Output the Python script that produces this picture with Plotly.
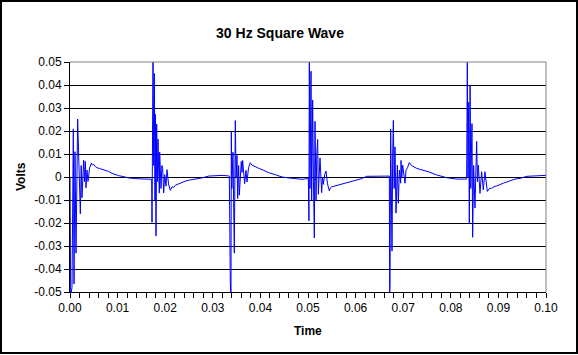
import plotly.graph_objects as go

# ---------------- data ----------------
time_s = [
    # burst 1
    0.00000, 0.00014, 0.00042, 0.00056, 0.00070, 0.00084, 0.00105, 0.00126, 0.00145, 0.00161,
    0.00182, 0.00217, 0.00235, 0.00252, 0.00287, 0.00305, 0.00322, 0.00336, 0.00357, 0.00378,
    0.00413, 0.00448, 0.00470, 0.00497, 0.00530, 0.00567, 0.00620, 0.00672, 0.00740, 0.00812,
    0.00880, 0.00952, 0.01020, 0.01092, 0.01160, 0.01232, 0.01372, 0.01513, 0.01650,
    # burst 2
    0.01700, 0.01716, 0.01723, 0.01730, 0.01744, 0.01758, 0.01772, 0.01786, 0.01793, 0.01807,
    0.01821, 0.01835, 0.01849, 0.01863, 0.01877, 0.01884, 0.01898, 0.01912, 0.01930, 0.01947,
    0.01968, 0.01990, 0.02017, 0.02038, 0.02070, 0.02108, 0.02143, 0.02180, 0.02213, 0.02283,
    0.02353, 0.02423, 0.02493, 0.02633, 0.02773, 0.02913, 0.03050, 0.03193, 0.03330,
    # burst 3
    0.03347, 0.03368, 0.03382, 0.03389, 0.03400, 0.03424, 0.03438, 0.03452, 0.03473, 0.03490,
    0.03508, 0.03522, 0.03543, 0.03557, 0.03599, 0.03613, 0.03627, 0.03669, 0.03697, 0.03718,
    0.03750, 0.03788, 0.03820, 0.03858, 0.03900, 0.03963, 0.04068, 0.04173, 0.04313, 0.04454,
    0.04594, 0.04874,
    # burst 4
    0.04950, 0.05007, 0.05020, 0.05028, 0.05042, 0.05063, 0.05077, 0.05098, 0.05115, 0.05133,
    0.05147, 0.05168, 0.05185, 0.05203, 0.05217, 0.05235, 0.05252, 0.05287, 0.05305, 0.05322,
    0.05350, 0.05378, 0.05410, 0.05448, 0.05470, 0.05497, 0.05550, 0.05602, 0.05707, 0.05847,
    0.05987, 0.06127, 0.06232, 0.06513, 0.06690,
    # burst 5
    0.06709, 0.06716, 0.06723, 0.06737, 0.06751, 0.06765, 0.06779, 0.06793, 0.06810, 0.06828,
    0.06849, 0.06865, 0.06877, 0.06898, 0.06920, 0.06947, 0.06954, 0.06970, 0.06989, 0.07038,
    0.07059, 0.07090, 0.07129, 0.07170, 0.07213, 0.07280, 0.07353, 0.07440, 0.07528, 0.07703,
    0.07913, 0.08123, 0.08333,
    # burst 6
    0.08347, 0.08361, 0.08375, 0.08389, 0.08405, 0.08420, 0.08445, 0.08459, 0.08480, 0.08508,
    0.08543, 0.08560, 0.08578, 0.08613, 0.08648, 0.08683, 0.08718, 0.08767, 0.08810, 0.08858,
    0.08910, 0.08963, 0.09103, 0.09244, 0.09349, 0.09454, 0.09600, 0.09800, 0.10000,
]

volts = [
    # burst 1
    0.0000, -0.0520, -0.0480, 0.0050, 0.0209, -0.0465, 0.0110, -0.0331, 0.0080, 0.0252,
    0.0096, -0.0160, 0.0050, -0.0090, 0.0073, -0.0020, 0.0068, -0.0047, 0.0030, -0.0019,
    0.0040, 0.0060, 0.0052, 0.0055, 0.0046, 0.0040, 0.0037, 0.0034, 0.0028, 0.0024,
    0.0016, 0.0009, 0.0006, 0.0003, -0.0001, -0.0004, -0.0007, -0.0009, -0.0012,
    # burst 2
    -0.0012, -0.0010, -0.0197, -0.0005, 0.0520, 0.0050, 0.0450, -0.0100, 0.0273, -0.0256,
    0.0230, -0.0020, 0.0165, 0.0030, -0.0070, 0.0108, 0.0010, -0.0050, 0.0050, 0.0036,
    -0.0069, 0.0010, -0.0040, 0.0032, -0.0030, -0.0058, -0.0043, -0.0045, -0.0036, -0.0030,
    -0.0022, -0.0018, -0.0014, -0.0010, -0.0004, 0.0004, 0.0006, 0.0007, 0.0005,
    # burst 3
    0.0004, -0.0460, -0.0520, 0.0197, -0.0050, 0.0108, -0.0137, -0.0331, 0.0245, 0.0000,
    0.0094, -0.0094, 0.0050, -0.0079, 0.0068, 0.0020, 0.0072, -0.0029, 0.0029, -0.0022,
    0.0040, 0.0062, 0.0052, 0.0048, 0.0043, 0.0038, 0.0029, 0.0019, 0.0010, 0.0000,
    -0.0004, -0.0010,
    # burst 4
    -0.0008, -0.0006, -0.0190, 0.0520, -0.0050, 0.0460, -0.0100, 0.0335, -0.0020, -0.0265,
    0.0242, -0.0104, 0.0100, 0.0163, -0.0075, 0.0040, 0.0083, -0.0068, 0.0000, -0.0032,
    0.0010, 0.0026, -0.0030, -0.0060, -0.0048, -0.0043, -0.0040, -0.0036, -0.0029, -0.0022,
    -0.0014, -0.0007, 0.0003, 0.0004, 0.0004,
    # burst 5
    0.0004, -0.0520, -0.0466, 0.0207, -0.0100, -0.0322, 0.0100, 0.0246, -0.0050, 0.0131,
    -0.0157, 0.0020, 0.0052, -0.0114, 0.0030, -0.0027, 0.0072, 0.0000, 0.0052, -0.0027,
    0.0030, 0.0040, 0.0063, 0.0050, 0.0045, 0.0038, 0.0033, 0.0028, 0.0023, 0.0009,
    -0.0003, -0.0009, -0.0009,
    # burst 6
    0.0520, 0.0000, 0.0325, -0.0204, 0.0400, -0.0050, 0.0232, -0.0262, 0.0050, -0.0135,
    0.0155, -0.0020, 0.0052, -0.0071, 0.0023, -0.0056, 0.0023, -0.0063, -0.0050, -0.0049,
    -0.0042, -0.0039, -0.0027, -0.0017, -0.0009, -0.0006, 0.0003, 0.0005, 0.0007,
]

x_tick_vals = [0.00, 0.01, 0.02, 0.03, 0.04, 0.05, 0.06, 0.07, 0.08, 0.09, 0.10]
x_tick_text = ["0.00", "0.01", "0.02", "0.03", "0.04", "0.05", "0.06", "0.07", "0.08", "0.09", "0.10"]
y_tick_vals = [-0.05, -0.04, -0.03, -0.02, -0.01, 0.0, 0.01, 0.02, 0.03, 0.04, 0.05]
y_tick_text = ["-0.05", "-0.04", "-0.03", "-0.02", "-0.01", "0", "0.01", "0.02", "0.03", "0.04", "0.05"]

chart_title = "30 Hz Square Wave"
x_title = "Time"
y_title = "Volts"

# ---------------- figure ----------------
W, H = 578, 355
L, R, T, B = 70, 32, 62, 63
pw, ph = W - L - R, H - T - B

FONT = "Liberation Sans, Arial, sans-serif"

fig = go.Figure()
fig.add_trace(go.Scatter(
    x=time_s, y=volts, mode="lines",
    line=dict(color="#0000FF", width=1),
    showlegend=False, hoverinfo="skip",
))

fig.update_layout(
    width=W, height=H,
    margin=dict(l=L, r=R, t=T, b=B, pad=0),
    paper_bgcolor="white", plot_bgcolor="white",
    font=dict(family=FONT, size=12, color="black"),
    title=dict(text="<b>" + chart_title + "</b>", x=280 / W, xanchor="center",
               xref="container", y=1 - 33 / H, yref="container", yanchor="middle",
               font=dict(family=FONT, size=14, color="black")),
)

fig.update_xaxes(
    range=[0, 0.1], tickmode="array", tickvals=x_tick_vals, ticktext=x_tick_text,
    showgrid=False, zeroline=False,
    showline=True, linecolor="black", linewidth=1,
    ticks="outside", ticklen=5, tickcolor="black", tickwidth=1,
    minor=dict(dtick=0.002, tick0=0, ticks="outside", ticklen=5, tickcolor="black", showgrid=False),
    tickfont=dict(family=FONT, size=12, color="black"),
)
fig.update_yaxes(
    range=[-0.05, 0.05], tickmode="array", tickvals=y_tick_vals, ticktext=y_tick_text,
    showgrid=True, gridcolor="black", gridwidth=1, zeroline=False,
    showline=True, linecolor="black", linewidth=1,
    ticks="outside", ticklen=5, tickcolor="black", tickwidth=1,
    tickfont=dict(family=FONT, size=12, color="black"),
)

# plot-area border (gray top & right) and chart outer frame
fig.add_shape(type="line", xref="paper", yref="paper", x0=0, x1=1, y0=1, y1=1,
              line=dict(color="#808080", width=1))
fig.add_shape(type="line", xref="paper", yref="paper", x0=1, x1=1, y0=0, y1=1,
              line=dict(color="#808080", width=1))
fig.add_shape(type="rect", xref="paper", yref="paper",
              x0=(1 - L) / pw, x1=(577 - L) / pw,
              y0=(H - B - 353) / ph, y1=(H - B - 1) / ph,
              line=dict(color="black", width=2), fillcolor="rgba(0,0,0,0)")

# axis titles
fig.add_annotation(text="<b>" + y_title + "</b>", textangle=-90, xref="paper", yref="paper",
                   x=(21 - L) / pw, y=(H - B - 177) / ph, showarrow=False,
                   xanchor="center", yanchor="middle", font=dict(family=FONT, size=12, color="black"))
fig.add_annotation(text="<b>" + x_title + "</b>", xref="paper", yref="paper",
                   x=(308 - L) / pw, y=(H - B - 331) / ph, showarrow=False,
                   xanchor="center", yanchor="middle", font=dict(family=FONT, size=12, color="black"))

fig.write_html("out.html", config={"displayModeBar": False},
               post_script="document.body.style.margin='0px';")
